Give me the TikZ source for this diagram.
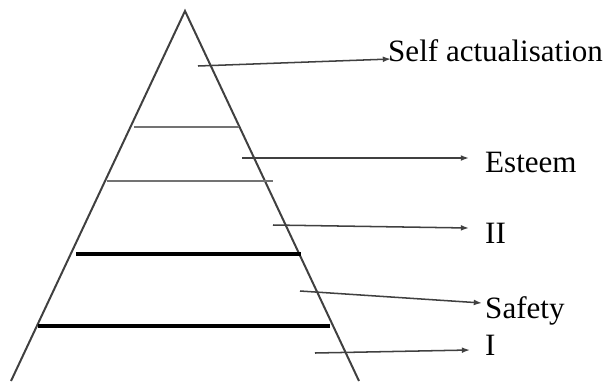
\documentclass[tikz,border=0pt]{standalone}
\usepackage{fontspec}
\setmainfont{Liberation Serif}
\usetikzlibrary{arrows.meta}

\begin{document}
\begin{tikzpicture}[
    x=0.03cm, y=-0.03cm,
    side/.style={draw=black!75, line width=1.7pt},
    greyrung/.style={draw=black!55, line width=2.3pt},
    blackrung/.style={draw=black, line width=2.9pt},
    pointer/.style={draw=black!75, line width=1.3pt, -{Latex[length=7pt,width=5pt]}},
    level/.style={font=\fontsize{26.5}{30}\selectfont, anchor=base west, inner sep=0pt}
]
\useasboundingbox (0,0) rectangle (611,381);

% Pyramid
\coordinate (apex) at (185,11);
\coordinate (baseL) at (11,381);
\coordinate (baseR) at (359,381);
\draw[side] (baseL) -- (apex) -- (baseR);

% Rungs
\draw[greyrung] (134,127) -- (239,127);
\draw[greyrung] (107,181) -- (273,181);
\draw[blackrung] (76,254) -- (301,254);
\draw[blackrung] (38,326) -- (330,326);

% Labels
\node[level] (selfact) at (388,61) {Self actualisation};
\node[level] (esteem) at (485,172) {Esteem};
\node[level] (two) at (485,243) {II};
\node[level] (safety) at (485,318) {Safety};
\node[level] (one) at (485,355) {I};

% Arrows
\coordinate (selffoot) at (198,66);
\coordinate (selftip) at (391,59);
\coordinate (esteemfoot) at (242,158);
\coordinate (esteemtip) at (469,158);
\coordinate (twofoot) at (273,225);
\coordinate (twotip) at (469,228);
\coordinate (safetyfoot) at (300,291);
\coordinate (safetytip) at (482,303);
\coordinate (onefoot) at (315,353);
\coordinate (onetip) at (470,350);
\draw[pointer] (selffoot) -- (selftip);
\draw[pointer] (esteemfoot) -- (esteemtip);
\draw[pointer] (twofoot) -- (twotip);
\draw[pointer] (safetyfoot) -- (safetytip);
\draw[pointer] (onefoot) -- (onetip);

\end{tikzpicture}
\end{document}
